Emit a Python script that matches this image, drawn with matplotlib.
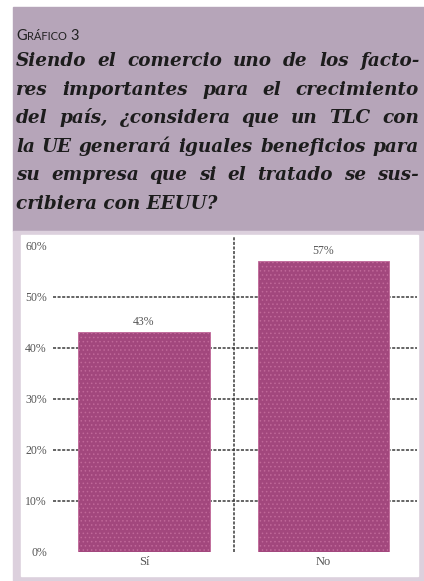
import matplotlib
matplotlib.use('Agg')
import matplotlib.pyplot as plt
from matplotlib.patches import Rectangle

# data
categories = ['Sí', 'No']
values = [43, 57]
yticks = [0, 10, 20, 30, 40, 50, 60]
gridlines = [10, 20, 30, 40, 50]

title_lines = [
    'Siendo el comercio uno de los facto-',
    'res importantes para el crecimiento',
    'del país, ¿considera que un TLC con',
    'la UE generará iguales beneficios para',
    'su empresa que si el tratado se sus-',
    'cribiera con EEUU?',
]

W, H = 424, 581
fig = plt.figure(figsize=(W / 100, H / 100), dpi=100)
fig.patch.set_facecolor('white')

def px_rect(x0, y0, x1, y1, color):
    # rectangle in pixel coords (y from top)
    fig.patches.append(Rectangle((x0 / W, 1 - y1 / H), (x1 - x0) / W, (y1 - y0) / H,
                                 transform=fig.transFigure, color=color, zorder=-5))

px_rect(13, 7, 424, 231, '#b6a5b9')   # header panel
px_rect(13, 231, 424, 581, '#dcd0dd')  # chart frame
px_rect(21, 235, 418, 576, 'white')    # chart area

renderer = fig.canvas.get_renderer()

# header label in small caps
hdr = dict(transform=fig.transFigure, color='#222222', family='Lato', va='baseline')
t1 = fig.text(16 / W, 1 - 40 / H, 'G', fontsize=10.5, **hdr)
bb = t1.get_window_extent(renderer)
t2 = fig.text(bb.x1 / W + 0.001, 1 - 40 / H, 'RÁFICO', fontsize=8, **hdr)
bb = t2.get_window_extent(renderer)
fig.text(bb.x1 / W + 0.008, 1 - 40 / H, '3', fontsize=10.5, **hdr)

# justified question text
left, right = 16, 419
base = dict(transform=fig.transFigure, color='#1c1c1c', family='DejaVu Serif',
            style='italic', weight='bold', va='baseline')
probe = fig.text(0, 0, title_lines[3], fontsize=10, **base)
natural = probe.get_window_extent(renderer).width
probe.remove()
fsize = 10 * (right - left - 4) / natural
txt = dict(base, fontsize=fsize)

baselines = [66, 95, 123, 152, 180, 209]
for i, line in enumerate(title_lines):
    if i == len(title_lines) - 1:
        fig.text(left / W, 1 - baselines[i] / H, line, **txt)
        continue
    words = line.split(' ')
    objs = [fig.text(0, 1 - baselines[i] / H, w, **txt) for w in words]
    widths = [o.get_window_extent(renderer).width for o in objs]
    gap = (right - left - sum(widths)) / (len(words) - 1)
    x = left
    for o, w in zip(objs, widths):
        o.set_x(x / W)
        x += w + gap

# bar chart
plt.rcParams['hatch.linewidth'] = 0.6
ax = fig.add_axes([53 / W, 29.3 / H, 364 / W, 316.2 / H], zorder=2)
ax.set_facecolor('none')
bars = ax.bar(range(len(categories)), values, width=0.735, color='#a2477d',
              edgecolor='#c06899', hatch='....', linewidth=0.6, zorder=3)

for g in gridlines:
    ax.axhline(g, color='#3a3a3a', lw=1.1, ls=(0, (2, 1)), zorder=1)
ax.axvline(0.5, ymin=0, ymax=1, color='#3a3a3a', lw=1.1, ls=(0, (2, 1)), zorder=1)

for i, v in enumerate(values):
    ax.annotate(f'{v}%', (i, v), xytext=(0, 3), textcoords='offset points',
                ha='center', va='bottom', fontsize=8.5, color='#555555',
                family='Liberation Serif')

ax.set_xlim(-0.507, 1.521)
ax.set_ylim(0, 62)
ax.set_yticks(yticks)
ax.set_yticklabels([f'{t}%' for t in yticks], fontsize=8.5, color='#555555',
                   family='Liberation Serif')
ax.set_xticks(range(len(categories)))
ax.set_xticklabels(categories, fontsize=9, color='#555555', family='Liberation Serif')
ax.tick_params(axis='y', length=0, pad=4.5)
ax.tick_params(axis='x', length=0, pad=3)
for s in ax.spines.values():
    s.set_visible(False)

fig.savefig('out.png', dpi=100)
